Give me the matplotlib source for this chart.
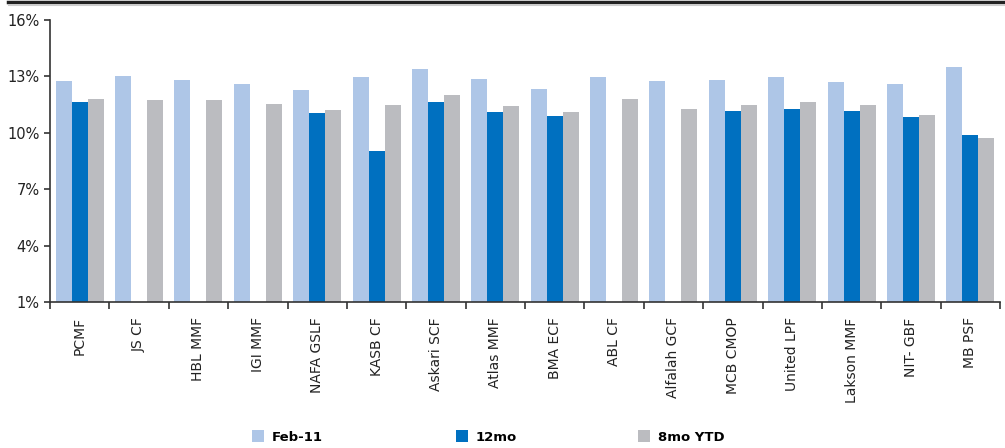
import numpy as np
import matplotlib
matplotlib.use("Agg")
import matplotlib.pyplot as plt
from matplotlib.lines import Line2D

plt.rcParams["font.family"] = ["DejaVu Sans"]

categories = ["PCMF", "JS CF", "HBL MMF", "IGI MMF", "NAFA GSLF", "KASB CF",
              "Askari SCF", "Atlas MMF", "BMA ECF", "ABL CF", "Alfalah GCF",
              "MCB CMOP", "United LPF", "Lakson MMF", "NIT- GBF", "MB PSF"]
nan = np.nan
feb11 = [12.76, 13.02, 12.81, 12.60, 12.28, 12.97, 13.39, 12.86, 12.33, 12.97,
         12.76, 12.81, 12.97, 12.70, 12.60, 13.50]
mo12 = [11.64, nan, nan, nan, 11.05, 9.03, 11.64, 11.11, 10.89, nan,
        nan, 11.16, 11.27, 11.16, 10.84, 9.88]
ytd8 = [11.80, 11.74, 11.74, 11.53, 11.21, 11.48, 12.01, 11.43, 11.11, 11.80,
        11.27, 11.48, 11.64, 11.48, 10.95, 9.72]
series_names = ["Feb-11", "12mo", "8mo YTD"]
colors = ["#AEC6E7", "#0070C0", "#BBBCC0"]
yticks = [1, 4, 7, 10, 13, 16]

fig = plt.figure(figsize=(10.05, 4.48), dpi=100)
ax = fig.add_axes([50/1005, (448-302)/448, (1000-50)/1005, (302-20)/448])

x = np.arange(len(categories))
w = 0.27
handles = []
for i, (vals, c, name) in enumerate(zip([feb11, mo12, ytd8], colors, series_names)):
    v = np.array(vals, dtype=float)
    h = ax.bar(x + (i - 1) * w, v - 1, bottom=1, width=w, color=c, label=name)
    handles.append(h)

ax.set_xlim(-0.5, len(categories) - 0.5)
ax.set_ylim(1, 16)
ax.set_yticks(yticks)
ax.set_yticklabels([f"{v}%" for v in yticks], fontsize=10.5, color="#222222")
ax.set_xticks(x)
ax.set_xticklabels(categories, rotation=90, fontsize=10, color="#222222")
ax.set_xticks(np.arange(len(categories) + 1) - 0.5, minor=True)
ax.tick_params(axis="x", which="major", length=0, pad=11)
ax.tick_params(axis="x", which="minor", length=5, width=1.2, color="#333333")
ax.tick_params(axis="y", length=4, width=1.2, color="#333333")
for s in ["top", "right"]:
    ax.spines[s].set_visible(False)
for s in ["left", "bottom"]:
    ax.spines[s].set_color("#333333")
    ax.spines[s].set_linewidth(1.2)

fig.add_artist(Line2D([8/1005, 1], [1 - 2.5/448] * 2, color="#222222", lw=2.5,
                      transform=fig.transFigure))
fig.add_artist(Line2D([8/1005, 1], [1 - 5/448] * 2, color="#cccccc", lw=0.8,
                      transform=fig.transFigure))

legend_x = [252, 456, 638]
for h, name, lx in zip(handles, series_names, legend_x):
    fig.legend(handles=[h], labels=[name], loc="center left",
               bbox_to_anchor=(lx/1005, 1 - 437/448), frameon=False,
               borderpad=0, borderaxespad=0, handlelength=0.9,
               handleheight=0.95, handletextpad=0.6,
               prop={"weight": "bold", "size": 9.5})

fig.savefig("out.png", dpi=100)
